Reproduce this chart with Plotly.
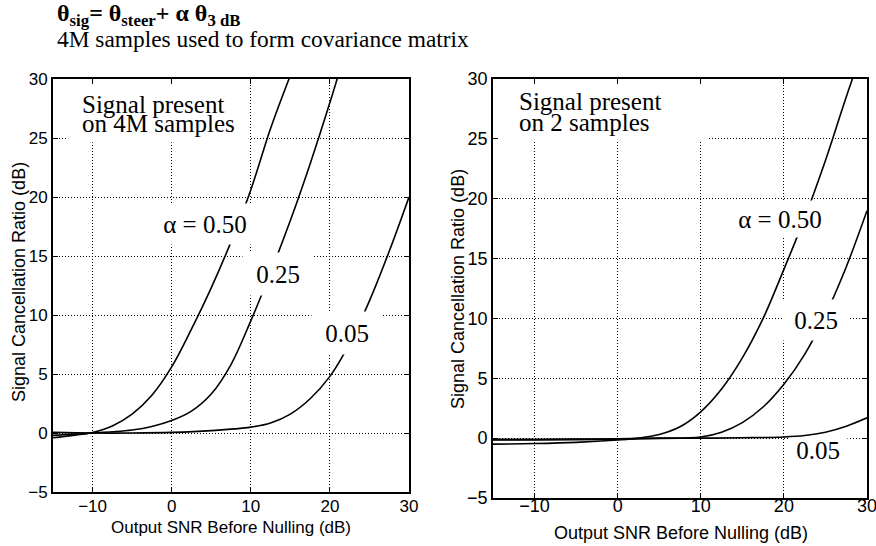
import plotly.graph_objects as go

W, H = 876, 546

# ---------------- data ----------------
xticks = [-10, 0, 10, 20, 30]
yticks = [-5, 0, 5, 10, 15, 20, 25, 30]

# Left panel: signal present on 4M samples
l050_x = [-15, -12.5, -10, -7.5, -5, -2.5, 0, 2.5, 5, 7.5, 10, 12.5, 15]
l050_y = [-0.4, -0.2, 0.05, 0.6, 1.6, 3.2, 5.6, 8.8, 12.3, 16.2, 20.6, 25.8, 30.3]
l025_x = [-15, -12.5, -10, -7.5, -5, -2.5, 0, 2.5, 5, 7.5, 10, 12.5, 15, 17.5, 20, 21.5]
l025_y = [-0.2, -0.1, 0, 0.1, 0.25, 0.55, 1.05, 1.85, 3.3, 5.8, 9.5, 13.6, 18.0, 22.8, 28.0, 31.3]
l005_x = [-15, -10, -5, 0, 5, 10, 12.5, 15, 17.5, 20, 22.5, 25, 27.5, 30]
l005_y = [0.05, 0, 0, 0.05, 0.2, 0.5, 0.85, 1.6, 2.9, 4.8, 7.6, 11.2, 15.4, 20.0]

# Right panel: signal present on 2 samples
r050_x = [-15, -10, -5, 0, 2.5, 5, 7.5, 10, 12.5, 15, 17.5, 20, 22.5, 25, 27.5, 30]
r050_y = [-0.5, -0.45, -0.35, -0.15, 0, 0.3, 0.95, 2.2, 4.1, 6.7, 10.0, 14.1, 18.4, 23.2, 28.5, 33.5]
r025_x = [-15, -10, -5, 0, 5, 10, 12.5, 15, 17.5, 20, 22.5, 25, 27.5, 30]
r025_y = [-0.15, -0.15, -0.12, -0.08, 0, 0.1, 0.5, 1.3, 2.6, 4.5, 7.0, 10.3, 14.3, 19.0]
r005_x = [-15, -10, -5, 0, 5, 10, 15, 20, 22.5, 25, 27.5, 30]
r005_y = [-0.1, -0.1, -0.08, -0.05, -0.02, 0, 0.03, 0.1, 0.22, 0.5, 1.0, 1.7]

labels = ["\u03b1 = 0.50", "0.25", "0.05"]

SERIF = "Liberation Serif"
SANS = "Liberation Sans"


def px(v):
    return v / W


def py(v):
    return 1 - v / H


fig = go.Figure()
line = dict(color="black", width=1.6, shape="spline", smoothing=1.0)
for xs, ys in [(l050_x, l050_y), (l025_x, l025_y), (l005_x, l005_y)]:
    fig.add_trace(go.Scatter(x=xs, y=ys, mode="lines", line=line, xaxis="x", yaxis="y",
                             hoverinfo="skip"))
for xs, ys in [(r050_x, r050_y), (r025_x, r025_y), (r005_x, r005_y)]:
    fig.add_trace(go.Scatter(x=xs, y=ys, mode="lines", line=line, xaxis="x2", yaxis="y2",
                             hoverinfo="skip"))

axcommon = dict(
    showgrid=True, gridcolor="black", griddash="1px,2px", gridwidth=1,
    zeroline=False, showline=True, linecolor="black", linewidth=1.8,
    mirror="ticks", ticks="inside", ticklen=5, tickwidth=1, tickcolor="black",
    tickmode="array", automargin=False, ticklabeloverflow="allow",
)

fig.update_layout(
    width=W, height=H, margin=dict(l=0, r=0, t=0, b=0, autoexpand=False),
    paper_bgcolor="white", plot_bgcolor="white", showlegend=False,
    xaxis=dict(domain=[px(53), px(409)], range=[-15, 30], tickvals=xticks,
               tickfont=dict(family=SANS, size=17, color="black"), ticklabelstandoff=-2,
               anchor="y", **axcommon),
    yaxis=dict(domain=[py(492), py(79)], range=[-5, 30], tickvals=yticks,
               tickfont=dict(family=SANS, size=17, color="black"), ticklabelstandoff=0,
               anchor="x", **axcommon),
    xaxis2=dict(domain=[px(493), px(867)], range=[-15, 30], tickvals=xticks,
                tickfont=dict(family=SANS, size=18, color="black"), ticklabelstandoff=-10,
                anchor="y2", **axcommon),
    yaxis2=dict(domain=[py(498), py(79)], range=[-5, 30], tickvals=yticks,
                tickfont=dict(family=SANS, size=18, color="black"), ticklabelstandoff=0,
                anchor="x2", **axcommon),
)

# white boxes behind the panel notes (above grid, below data)
fig.add_shape(type="rect", xref="x", yref="y", x0=-13.1, x1=9.75, y0=24.65, y1=30,
              fillcolor="white", line_width=0, layer="between")
fig.add_shape(type="rect", xref="x2", yref="y2", x0=-14.5, x1=10.8, y0=24.75, y1=30,
              fillcolor="white", line_width=0, layer="between")

ann = []
# Titles
ann.append(dict(text="<b>\u03b8<sub>sig</sub>= \u03b8<sub>steer</sub>+ \u03b1 \u03b8<sub>3 dB</sub></b>",
                x=px(55), y=py(15), xref="paper", yref="paper", xanchor="left", yanchor="middle",
                showarrow=False, font=dict(family=SERIF, size=24, color="black")))
ann.append(dict(text="4M samples used to form covariance matrix",
                x=px(55), y=py(39), xref="paper", yref="paper", xanchor="left", yanchor="middle",
                showarrow=False, font=dict(family=SERIF, size=23.4, color="black")))

# Axis titles
ann.append(dict(text="Output SNR Before Nulling (dB)", x=px(231), y=py(527), xref="paper",
                yref="paper", xanchor="center", yanchor="middle", showarrow=False,
                font=dict(family=SANS, size=17, color="black")))
ann.append(dict(text="Output SNR Before Nulling (dB)", x=px(681), y=py(533), xref="paper",
                yref="paper", xanchor="center", yanchor="middle", showarrow=False,
                font=dict(family=SANS, size=18, color="black")))
ann.append(dict(text="Signal Cancellation Ratio (dB)", x=px(19), y=py(282), xref="paper",
                yref="paper", xanchor="center", yanchor="middle", showarrow=False,
                textangle=-90, font=dict(family=SANS, size=18, color="black")))
ann.append(dict(text="Signal Cancellation Ratio (dB)", x=px(458), y=py(289), xref="paper",
                yref="paper", xanchor="center", yanchor="middle", showarrow=False,
                textangle=-90, font=dict(family=SANS, size=18, color="black")))

# Panel notes
for (t, xx, yy) in [("Signal present", 80, 104), ("on 4M samples", 80, 124),
                    ("Signal present", 516.7, 101.6), ("on 2 samples", 516.7, 122.3)]:
    ann.append(dict(text=t, x=px(xx), y=py(yy), xref="paper", yref="paper",
                    xanchor="left", yanchor="middle", showarrow=False,
                    font=dict(family=SERIF, size=25, color="black")))

# Curve labels with white boxes
curve_labels = [
    ("x", "y", labels[0], 4.18, 17.75, 94, 40),
    ("x", "y", labels[1], 13.46, 13.5, 70, 42),
    ("x", "y", labels[2], 22.2, 8.45, 70, 42),
    ("x2", "y2", labels[0], 19.5, 18.3, 100, 36),
    ("x2", "y2", labels[1], 23.9, 9.86, 66, 40),
    ("x2", "y2", labels[2], 24.1, -1.0, 58, 24),
]
for xr, yr, t, xx, yy, w, h in curve_labels:
    ann.append(dict(text=t, x=xx, y=yy, xref=xr, yref=yr, showarrow=False,
                    xanchor="center", yanchor="middle",
                    width=w, height=h, bgcolor="white", borderpad=0,
                    align="center", valign="middle",
                    font=dict(family=SERIF, size=25, color="black")))

fig.update_layout(annotations=ann)
fig.write_html("out.html")
